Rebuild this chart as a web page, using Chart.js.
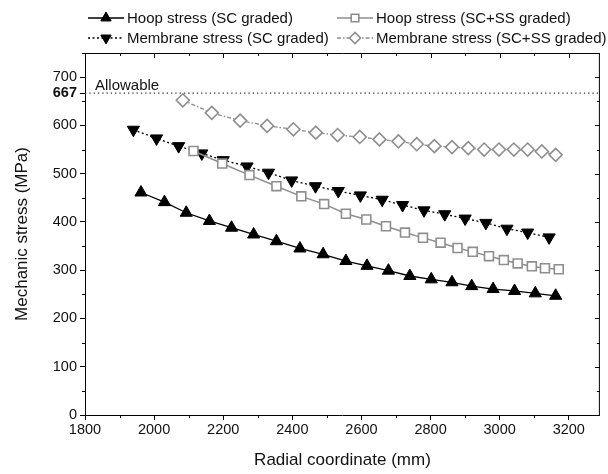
<!DOCTYPE html>
<html>
<head>
<meta charset="utf-8">
<script src="https://cdn.jsdelivr.net/npm/chart.js@4/dist/chart.umd.min.js"></script>
<style>
  html, body { margin: 0; padding: 0; background: #fff; }
  #wrap { width: 608px; height: 474px; }
</style>
</head>
<body>
<div id="wrap"><canvas id="stressChart" width="608" height="474"></canvas></div>
<script>
// Data
const hoopScX = [1962, 2030, 2093, 2160, 2224, 2288, 2354, 2422, 2489, 2555, 2616, 2678, 2740, 2802, 2862, 2919, 2981, 3043, 3103, 3162];
const hoopScY = [461, 441, 419, 402, 388, 374, 360, 345, 333, 319, 309, 299, 288, 281, 275, 267, 261, 257, 252, 247];

const hoopSsX = [2114, 2197, 2276, 2354, 2426, 2492, 2555, 2614, 2671, 2726, 2778, 2829, 2878, 2922, 2969, 3012, 3052, 3093, 3131, 3171];
const hoopSsY = [547, 521, 497, 474, 453, 437, 417, 405, 391, 378, 367, 357, 346, 338, 329, 321, 314, 308, 304, 302];

const memScX = [1940, 2007, 2071, 2138, 2200, 2269, 2331, 2398, 2467, 2533, 2597, 2660, 2719, 2781, 2841, 2900, 2960, 3021, 3081, 3143];
const memScY = [591, 573, 557, 542, 528, 515, 502, 486, 474, 464, 455, 446, 435, 424, 416, 407, 398, 386, 378, 368];

const memSsX = [2083, 2167, 2249, 2327, 2403, 2468, 2531, 2595, 2652, 2707, 2760, 2811, 2862, 2909, 2955, 2998, 3041, 3081, 3122, 3162];
const memSsY = [652, 626, 610, 599, 592, 585, 580, 576, 571, 567, 561, 557, 555, 553, 550, 550, 550, 550, 546, 539];

const seriesLabels = [
    "Hoop stress (SC graded)",
    "Hoop stress (SC+SS graded)",
    "Membrane stress (SC graded)",
    "Membrane stress (SC+SS graded)"
];

const xTicks = [1800, 2000, 2200, 2400, 2600, 2800, 3000, 3200];
const yTicks = [0, 100, 200, 300, 400, 500, 600, 667, 700];

const allowable = 667;
const allowableLabel = "Allowable";
const xMin = 1800, xMax = 3290, xMinor = 100;
const yMin = 0, yMax = 750, yMinor = 50;

const FONT = "Arial, 'Liberation Sans', sans-serif";
const GRAY = "#8e8e8e";

function toPoints(xs, ys) {
    return xs.map((x, i) => ({ x: x, y: ys[i] }));
}

// Draws frame, mirror ticks, minor ticks, allowable line and the legend
const framePlugin = {
    id: "frame",
    afterDatasetsDraw(chart) {
        const { ctx, chartArea: a, scales: { x, y } } = chart;
        ctx.save();

        // allowable line
        const ya = y.getPixelForValue(allowable);
        ctx.strokeStyle = "#333";
        ctx.lineWidth = 1.3;
        ctx.setLineDash([1.3, 3]);
        ctx.beginPath();
        ctx.moveTo(a.left, ya);
        ctx.lineTo(a.right, ya);
        ctx.stroke();
        ctx.setLineDash([]);
        ctx.fillStyle = "#111";
        ctx.font = "15px " + FONT;
        ctx.textBaseline = "alphabetic";
        ctx.fillText(allowableLabel, a.left + 10, ya - 3);

        // frame
        ctx.strokeStyle = "#000";
        ctx.lineWidth = 1;
        ctx.beginPath();
        ctx.moveTo(a.left, a.top + 0.5);
        ctx.lineTo(a.right, a.top + 0.5);
        ctx.moveTo(a.right - 0.5, a.top);
        ctx.lineTo(a.right - 0.5, a.bottom);
        ctx.stroke();

        ctx.beginPath();
        for (let v = xMin; v <= xMax; v += xMinor) {
            const px = Math.round(x.getPixelForValue(v)) + 0.5;
            const major = xTicks.includes(v);
            const len = major ? 5 : 3;
            // top, inward
            ctx.moveTo(px, a.top);
            ctx.lineTo(px, a.top + len);
            // bottom minor, outward
            if (!major) {
                ctx.moveTo(px, a.bottom);
                ctx.lineTo(px, a.bottom + 3);
            }
        }
        for (let v = yMin; v <= yMax; v += yMinor) {
            const py = Math.round(y.getPixelForValue(v)) + 0.5;
            const major = yTicks.includes(v);
            const len = major ? 5 : 3;
            ctx.moveTo(a.right, py);
            ctx.lineTo(a.right - len, py);
            if (!major) {
                ctx.moveTo(a.left, py);
                ctx.lineTo(a.left - 3, py);
            }
        }
        ctx.stroke();

        // legend, two columns
        const cols = [88, 337];
        const rows = [18, 38];
        const order = [[0, 0, 0], [1, 1, 0], [2, 0, 1], [3, 1, 1]];
        ctx.font = "15px " + FONT;
        ctx.textBaseline = "middle";
        order.forEach(([di, c, r]) => {
            const ds = chart.data.datasets[di];
            const lx = cols[c], ly = rows[r];
            ctx.strokeStyle = ds.borderColor;
            ctx.lineWidth = ds.borderWidth;
            ctx.setLineDash(ds.borderDash || []);
            ctx.beginPath();
            ctx.moveTo(lx, ly);
            ctx.lineTo(lx + 36, ly);
            ctx.stroke();
            ctx.setLineDash([]);
            ctx.fillStyle = ds.pointBackgroundColor;
            ctx.strokeStyle = ds.pointBorderColor;
            ctx.lineWidth = ds.pointBorderWidth;
            Chart.helpers.drawPoint(ctx, {
                pointStyle: ds.pointStyle,
                rotation: ds.pointRotation || 0,
                radius: ds.pointRadius * 0.85,
                borderWidth: ds.pointBorderWidth
            }, lx + 18, ly);
            ctx.fillStyle = "#111";
            ctx.fillText(ds.label, lx + 39, ly + 0.5);
        });
        ctx.restore();
    }
};

const ctx = document.getElementById("stressChart").getContext("2d");

new Chart(ctx, {
    type: "line",
    data: {
        datasets: [{
            label: seriesLabels[0],
            data: toPoints(hoopScX, hoopScY),
            borderColor: "#000",
            borderWidth: 1.3,
            pointStyle: "triangle",
            pointRadius: 7,
            pointBackgroundColor: "#000",
            pointBorderColor: "#000",
            pointBorderWidth: 1
        }, {
            label: seriesLabels[1],
            data: toPoints(hoopSsX, hoopSsY),
            borderColor: GRAY,
            borderWidth: 1.5,
            pointStyle: "rect",
            pointRadius: 6.3,
            pointBackgroundColor: "#fff",
            pointBorderColor: GRAY,
            pointBorderWidth: 1.6
        }, {
            label: seriesLabels[2],
            data: toPoints(memScX, memScY),
            borderColor: "#000",
            borderWidth: 1.3,
            borderDash: [2, 2.5],
            pointStyle: "triangle",
            pointRotation: 180,
            pointRadius: 7,
            pointBackgroundColor: "#000",
            pointBorderColor: "#000",
            pointBorderWidth: 1
        }, {
            label: seriesLabels[3],
            data: toPoints(memSsX, memSsY),
            borderColor: GRAY,
            borderWidth: 1.3,
            borderDash: [4, 2, 1.5, 2],
            pointStyle: "rectRot",
            pointRadius: 6.5,
            pointBackgroundColor: "#fff",
            pointBorderColor: GRAY,
            pointBorderWidth: 1.6
        }]
    },
    options: {
        responsive: false,
        animation: false,
        layout: { padding: { top: 53, right: 1, left: 0, bottom: 0 } },
        plugins: { legend: { display: false }, tooltip: { enabled: false } },
        elements: { line: { tension: 0 } },
        scales: {
            x: {
                type: "linear",
                min: xMin,
                max: xMax,
                afterBuildTicks: s => { s.ticks = xTicks.map(v => ({ value: v })); },
                ticks: {
                    color: "#111",
                    font: { family: FONT, size: 14.5 },
                    padding: 1,
                    maxRotation: 0,
                    autoSkip: false,
                    callback: v => String(v)
                },
                grid: { drawOnChartArea: false, tickLength: 5, color: "#000" },
                border: { color: "#000", width: 1 },
                title: {
                    display: true,
                    text: "Radial coordinate (mm)",
                    color: "#111",
                    font: { family: FONT, size: 17 },
                    padding: { bottom: 3, top: 0 }
                },
                afterFit: s => { s.height = 59; }
            },
            y: {
                type: "linear",
                min: yMin,
                max: yMax,
                afterBuildTicks: s => { s.ticks = yTicks.map(v => ({ value: v })); },
                ticks: {
                    color: "#111",
                    autoSkip: false,
                    callback: v => String(v),
                    font: c => ({ family: FONT, size: 14.5, weight: c.tick && c.tick.value === allowable ? "bold" : "normal" }),
                    padding: 3
                },
                grid: { drawOnChartArea: false, tickLength: 5, color: "#000" },
                border: { color: "#000", width: 1 },
                title: {
                    display: true,
                    text: "Mechanic stress (MPa)",
                    color: "#111",
                    font: { family: FONT, size: 17 },
                    padding: { top: 12, bottom: 0 }
                },
                afterFit: s => { s.width = 85; }
            }
        }
    },
    plugins: [framePlugin]
});
</script>
</body>
</html>
